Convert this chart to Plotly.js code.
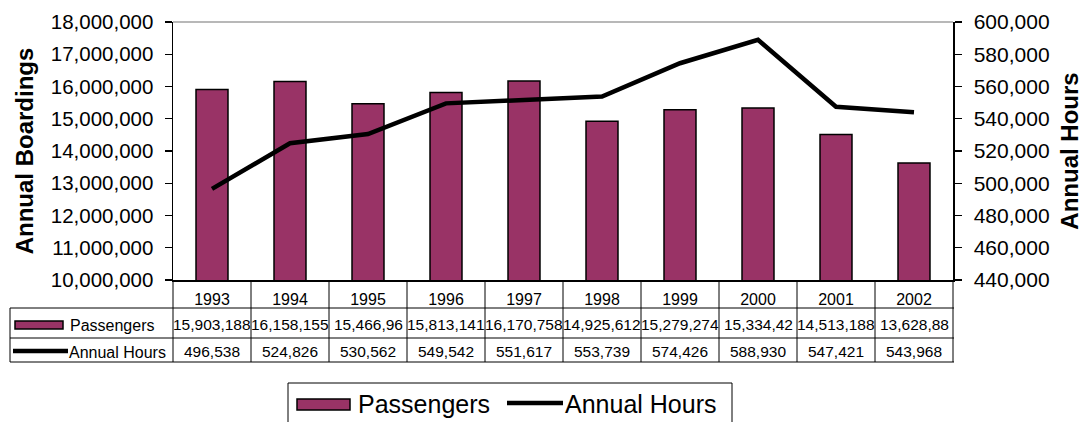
<!DOCTYPE html>
<html><head><meta charset="utf-8">
<script src="https://cdn.plot.ly/plotly-3.0.1.min.js"></script>
<style>html,body{margin:0;padding:0;background:#fff}#chart{width:1091px;height:422px}</style>
</head><body><div id="chart"></div>
<script>
// ---- data ----
const years = ['1993','1994','1995','1996','1997','1998','1999','2000','2001','2002'];
const passengers = [15903188,16158155,15466961,15813141,16170758,14925612,15279274,15334420,14513188,13628880];
const annualHours = [496538,524826,530562,549542,551617,553739,574426,588930,547421,543968];
// table labels exactly as visible (some are clipped in the original cell)
const passengerLabels = ['15,903,188','16,158,155','15,466,96','15,813,141','16,170,758','14,925,612','15,279,274','15,334,42','14,513,188','13,628,88'];
const hoursLabels = annualHours.map(v => v.toLocaleString('en-US'));
const seriesNames = ['Passengers','Annual Hours'];

// ---- layout helpers (pixel -> paper) ----
const W = 1091, H = 422, L = 173, R = 138, T = 22, B = 142;
const PW = W - L - R, PH = H - T - B;
const px = x => (x - L) / PW;
const py = y => (H - B - y) / PH;
const FONT = 'Liberation Sans, Arial, sans-serif';
const BAR = '#993366';

const traces = [
  {type:'bar', x: years, y: passengers, name: seriesNames[0], yaxis:'y',
   marker:{color:BAR, line:{color:'#000', width:1.5}}, showlegend:false, hoverinfo:'x+y'},
  {type:'scatter', mode:'lines', x: years, y: annualHours, name: seriesNames[1], yaxis:'y2',
   line:{color:'#000', width:4.5}, showlegend:false}
];

const shapes = [];
const annotations = [];
const line = (x0,y0,x1,y1,color,width) => shapes.push({type:'line', xref:'paper', yref:'paper',
  x0:x0, y0:y0, x1:x1, y1:y1, line:{color:color||'#000', width:width||1}, layer:'above'});

// top border of plot area (grey)
line(0, 1, 1, 1, '#a0a0a0', 1.5);

// table grid
const n = years.length;
for (let i = 0; i <= n; i++) {
  const xp = i / n;
  line(xp, 0, xp, py(362), '#000', 1);
}
line(px(10), py(308), px(10), py(362), '#000', 1);
[308, 338, 362].forEach(yy => line(px(10), py(yy), 1 + 1/PW, py(yy), '#000', 1));

// table values (one cell per category, centred on its column)
years.forEach((yr, i) => {
  const xc = (i + 0.5) / n;
  annotations.push({xref:'paper', yref:'paper', x: xc, y: py(324), text: passengerLabels[i], showarrow:false,
    font:{family:FONT, size:15.5, color:'#000'}, xanchor:'center', yanchor:'middle'});
  annotations.push({xref:'paper', yref:'paper', x: xc, y: py(351), text: hoursLabels[i], showarrow:false,
    font:{family:FONT, size:15.5, color:'#000'}, xanchor:'center', yanchor:'middle'});
});

// table legend keys
shapes.push({type:'rect', xref:'paper', yref:'paper', x0:px(15), x1:px(63), y0:py(321), y1:py(329),
  fillcolor:BAR, line:{color:'#000', width:1.5}, layer:'above'});
line(px(13), py(351), px(68), py(351), '#000', 4.5);
annotations.push({xref:'paper', yref:'paper', x:px(68), y:py(325), text:seriesNames[0], showarrow:false,
  xanchor:'left', yanchor:'middle', font:{family:FONT, size:16, color:'#000'}});
annotations.push({xref:'paper', yref:'paper', x:px(67), y:py(352), text:seriesNames[1], showarrow:false,
  xanchor:'left', yanchor:'middle', font:{family:FONT, size:16, color:'#000'}});

// bottom legend
shapes.push({type:'rect', xref:'paper', yref:'paper', x0:px(288), x1:px(732), y0:py(383), y1:py(424),
  fillcolor:'rgba(0,0,0,0)', line:{color:'#000', width:1}, layer:'above'});
shapes.push({type:'rect', xref:'paper', yref:'paper', x0:px(297), x1:px(350), y0:py(399), y1:py(410),
  fillcolor:BAR, line:{color:'#000', width:1.5}, layer:'above'});
line(px(507), py(403), px(563), py(403), '#000', 4.5);
annotations.push({xref:'paper', yref:'paper', x:px(356), y:py(404), text:seriesNames[0], showarrow:false,
  xanchor:'left', yanchor:'middle', font:{family:FONT, size:25, color:'#000'}});
annotations.push({xref:'paper', yref:'paper', x:px(563), y:py(404), text:seriesNames[1], showarrow:false,
  xanchor:'left', yanchor:'middle', font:{family:FONT, size:25, color:'#000'}});

const yl = {range:[10000000,18000000], dtick:1000000, tick0:10000000};
const yr = {range:[440000,600000], dtick:20000, tick0:440000};

const layout = {
  width: W, height: H,
  margin:{l:L, r:R, t:T, b:B, pad:0},
  paper_bgcolor:'#fff', plot_bgcolor:'#fff',
  showlegend:false,
  bargap:0.59,
  font:{family:FONT, color:'#000'},
  xaxis:{type:'category', range:[-0.5, n-0.5], showline:true, linecolor:'#000', linewidth:1.5,
    ticks:'', showgrid:false, zeroline:false, tickfont:{family:FONT, size:16, color:'#000'},
    ticklabelstandoff:4, fixedrange:true},
  yaxis:Object.assign({}, yl, {showline:true, linecolor:'#000', linewidth:1.5, ticks:'outside', ticklen:7,
    tickcolor:'#000', tickwidth:1.2, showgrid:false, zeroline:false, tickformat:',d',
    tickfont:{family:FONT, size:20.5, color:'#000'}, ticklabelstandoff:7,
    title:{text:'<b>Annual Boardings</b>', font:{family:FONT, size:24, color:'#000'}, standoff:10}}),
  yaxis2:Object.assign({}, yr, {overlaying:'y', side:'right', showline:true, linecolor:'#000', linewidth:1.5,
    ticks:'outside', ticklen:7, tickcolor:'#000', tickwidth:1.2, showgrid:false, zeroline:false,
    tickformat:',d', tickfont:{family:FONT, size:21, color:'#000'}, ticklabelstandoff:8,
    title:{text:'<b>Annual Hours</b>', font:{family:FONT, size:24, color:'#000'}, standoff:12}}),
  yaxis3:Object.assign({}, yl, {overlaying:'y', side:'left', ticks:'inside', ticklen:6, tickcolor:'#000',
    tickwidth:1.2, showticklabels:false, showline:false, showgrid:false, zeroline:false}),
  yaxis4:Object.assign({}, yr, {overlaying:'y', side:'right', ticks:'inside', ticklen:6, tickcolor:'#000',
    tickwidth:1.2, showticklabels:false, showline:false, showgrid:false, zeroline:false}),
  shapes: shapes,
  annotations: annotations
};

Plotly.newPlot('chart', traces, layout, {staticPlot:true, displayModeBar:false});
</script></body></html>
